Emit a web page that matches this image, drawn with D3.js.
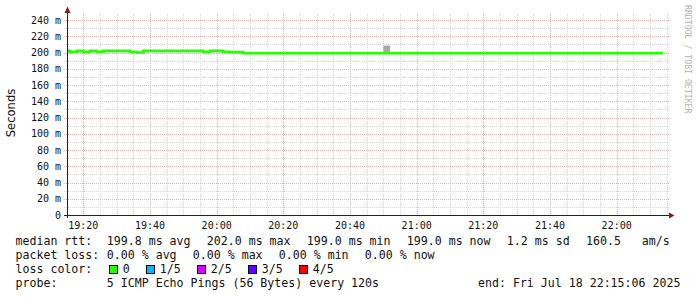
<!DOCTYPE html>
<html>
<head>
<meta charset="utf-8">
<script src="https://cdn.jsdelivr.net/npm/d3@7"></script>
<style>
  body { margin: 0; background: #fff; }
  svg { display: block; font-family: "DejaVu Sans Mono", monospace; }
</style>
</head>
<body>
<svg id="chart" width="697" height="297"></svg>
<script>
/* global d3 */

//Time range of the graph
var startTime = new Date(2025, 6, 18, 19, 15, 6);
var endTime = new Date(2025, 6, 18, 22, 15, 6);
var firstStepEnd = new Date(2025, 6, 18, 19, 16, 0);
var stepSeconds = 120;

//Median rtt (ms), one value per 120s step
var medianRtt = [
  202, 201, 202, 201, 202, 201, 202, 202, 202, 202,
  201, 200, 202, 202, 202, 202, 202, 202, 202, 202,
  202, 201, 202, 202, 201, 200.5, 200.5, 199, 199, 199,
  199, 199, 199, 199, 199, 199, 199, 199, 199, 199,
  199, 199, 199, 199, 199, 199, 199, 199, 199, 199,
  199, 199, 199, 199, 199, 199, 199, 199, 199, 199,
  199, 199, 199, 199, 199, 199, 199, 199, 199, 199,
  199, 199, 199, 199, 199, 199, 199, 199, 199, 199,
  199, 199, 199, 199, 199, 199, 199, 199, 199, 199
];

//Smoke (ping spread) where it shows above the median line
var smokeStep = [48];
var smokeLo = [199];
var smokeHi = [208.5];

//Axis ticks
var yMajorTicks = [0, 20, 40, 60, 80, 100, 120, 140, 160, 180, 200, 220, 240];
var yMinorTicks = [10, 30, 50, 70, 90, 110, 130, 150, 170, 190, 210, 230];

//Legend
var rttLabels = ['199.8 ms avg', '202.0 ms max', '199.0 ms min', '199.0 ms now', '1.2 ms sd', '160.5   am/s'];
var lossLabels = ['0.00 % avg', '0.00 % max', '0.00 % min', '0.00 % now'];
var lossColorLabels = ['0', '1/5', '2/5', '3/5', '4/5'];
var lossColors = ['#26ff00', '#00b8ff', '#dd00ff', '#5e00ff', '#ff0000'];
var probeText = '5 ICMP Echo Pings (56 Bytes) every 120s';
var endText = 'end: Fri Jul 18 22:15:06 2025';

var svg = d3.select('#chart');
var plotL = 67, plotR = 667, plotT = 14, plotB = 215;

var x = d3.scaleTime().domain([startTime, endTime]).range([plotL, plotR]);
var y = d3.scaleLinear().domain([0, 247.4]).range([plotB, plotT]);

var gridMinor = '#dadada', gridMajor = '#eab4b4';

//Build step intervals
var steps = medianRtt.map(function(v, i){
  var t1 = new Date(firstStepEnd.getTime() + i * stepSeconds * 1000);
  var t0 = new Date(t1.getTime() - stepSeconds * 1000);
  if (t0 < startTime) t0 = startTime;
  return { t0: t0, t1: t1, v: v };
});

//Grid
var g = svg.append('g').attr('shape-rendering', 'crispEdges');
var minorTimes = x.ticks(d3.timeMinute.every(5)).filter(function(t){ return t.getMinutes() % 20 !== 0; });
var majorTimes = x.ticks(d3.timeMinute.every(20));

var vgrid = function(data, color){
  g.selectAll(null).data(data).enter().append('line')
    .attr('x1', function(d){ return Math.round(x(d)) + 0.5; })
    .attr('x2', function(d){ return Math.round(x(d)) + 0.5; })
    .attr('y1', plotT - 1).attr('y2', plotB)
    .attr('stroke', color).attr('stroke-dasharray', '1,1');
};
var hgrid = function(data, color){
  g.selectAll(null).data(data).enter().append('line')
    .attr('x1', plotL - 3).attr('x2', plotR + 3)
    .attr('y1', function(d){ return Math.round(y(d)) + 0.5; })
    .attr('y2', function(d){ return Math.round(y(d)) + 0.5; })
    .attr('stroke', color).attr('stroke-dasharray', '1,1');
};
vgrid(minorTimes, gridMinor);
hgrid(yMinorTicks, gridMinor);
vgrid(majorTimes, gridMajor);
hgrid(yMajorTicks.slice(1), gridMajor);

//Smoke
svg.selectAll('.smoke').data(smokeStep).enter().append('rect')
  .attr('x', function(d){ return x(steps[d].t0); })
  .attr('width', function(d){ return x(steps[d].t1) - x(steps[d].t0); })
  .attr('y', function(d, i){ return y(smokeHi[i]); })
  .attr('height', function(d, i){ return y(smokeLo[i]) - y(smokeHi[i]); })
  .attr('fill', '#a8a8a8');

//Median line (step)
var pts = steps.map(function(s){ return [s.t0, s.v]; });
pts.push([steps[steps.length - 1].t1, steps[steps.length - 1].v]);
var line = d3.line()
  .x(function(d){ return x(d[0]); })
  .y(function(d){ return y(d[1]); })
  .curve(d3.curveStepAfter);
svg.append('path').datum(pts)
  .attr('d', line)
  .attr('fill', 'none')
  .attr('stroke', lossColors[0])
  .attr('stroke-width', 2.6);

//Axes
var ax = svg.append('g').attr('shape-rendering', 'crispEdges');
ax.append('line').attr('x1', plotL - 3).attr('x2', plotR + 3).attr('y1', plotB + 0.5).attr('y2', plotB + 0.5).attr('stroke', '#222');
ax.append('line').attr('x1', plotL + 0.5).attr('x2', plotL + 0.5).attr('y1', plotB + 3).attr('y2', plotT - 4).attr('stroke', '#222');
svg.append('path').attr('d', 'M' + (plotR + 2) + ',' + (plotB - 2.5) + 'L' + (plotR + 7.5) + ',' + (plotB + 0.5) + 'L' + (plotR + 2) + ',' + (plotB + 3.5) + 'Z').attr('fill', '#8b1818');
svg.append('path').attr('d', 'M' + (plotL - 2.5) + ',' + (plotT - 1) + 'L' + (plotL + 0.5) + ',' + (plotT - 7.5) + 'L' + (plotL + 3.5) + ',' + (plotT - 1) + 'Z').attr('fill', '#8b1818');

//Tick labels
svg.selectAll('.ylab').data(yMajorTicks).enter().append('text')
  .attr('x', 61).attr('y', function(d){ return y(d) + 3.6; })
  .attr('text-anchor', 'end').attr('font-size', '10px').attr('fill', '#111')
  .text(function(d){ return d === 0 ? '0' : d + ' m'; });
var fmt = d3.timeFormat('%H:%M');
svg.selectAll('.xlab').data(majorTimes).enter().append('text')
  .attr('x', function(d){ return x(d); }).attr('y', 228.5)
  .attr('text-anchor', 'middle').attr('font-size', '10px').attr('fill', '#111')
  .text(fmt);

//Y title
svg.append('text').attr('transform', 'translate(15,113) rotate(-90)')
  .attr('text-anchor', 'middle').attr('font-family', '"DejaVu Sans", sans-serif')
  .attr('font-size', '11.6px').attr('fill', '#111').text('Seconds');

//Watermark
svg.append('text').attr('transform', 'translate(684.5,5) rotate(90)')
  .attr('font-size', '8.2px').attr('fill', '#b4b4b4').text('RRDTOOL / TOBI OETIKER');

//Legend
var lg = svg.append('g').attr('font-size', '11.6px').attr('fill', '#111');
var cw = 7.0;
var addText = function(tx, ty, s){ lg.append('text').attr('x', tx).attr('y', ty).style('white-space', 'pre').text(s); };

addText(15.5, 245, 'median rtt:');
var rttX = [106.8, 206.8, 306.8, 406.8, 506.8, 586];
rttLabels.forEach(function(s, i){ addText(rttX[i], 245, s); });

addText(15.5, 259, 'packet loss:');
lossLabels.forEach(function(s, i){ addText(106.8 + i * 86, 259, s); });

addText(15.5, 273, 'loss color:');
var bx = 108.7;
lossColorLabels.forEach(function(s, i){
  lg.append('rect').attr('x', Math.round(bx) + 0.5).attr('y', 265.5).attr('width', 8).attr('height', 8)
    .attr('fill', lossColors[i]).attr('stroke', '#000').attr('shape-rendering', 'crispEdges');
  var tx = bx + 14.6;
  addText(tx - 0.5, 273, s);
  bx = tx + s.length * cw + 15.4;
});

addText(15.5, 287, 'probe:');
addText(106.8, 287, probeText);
addText(478, 287, endText);
</script>
</body>
</html>
